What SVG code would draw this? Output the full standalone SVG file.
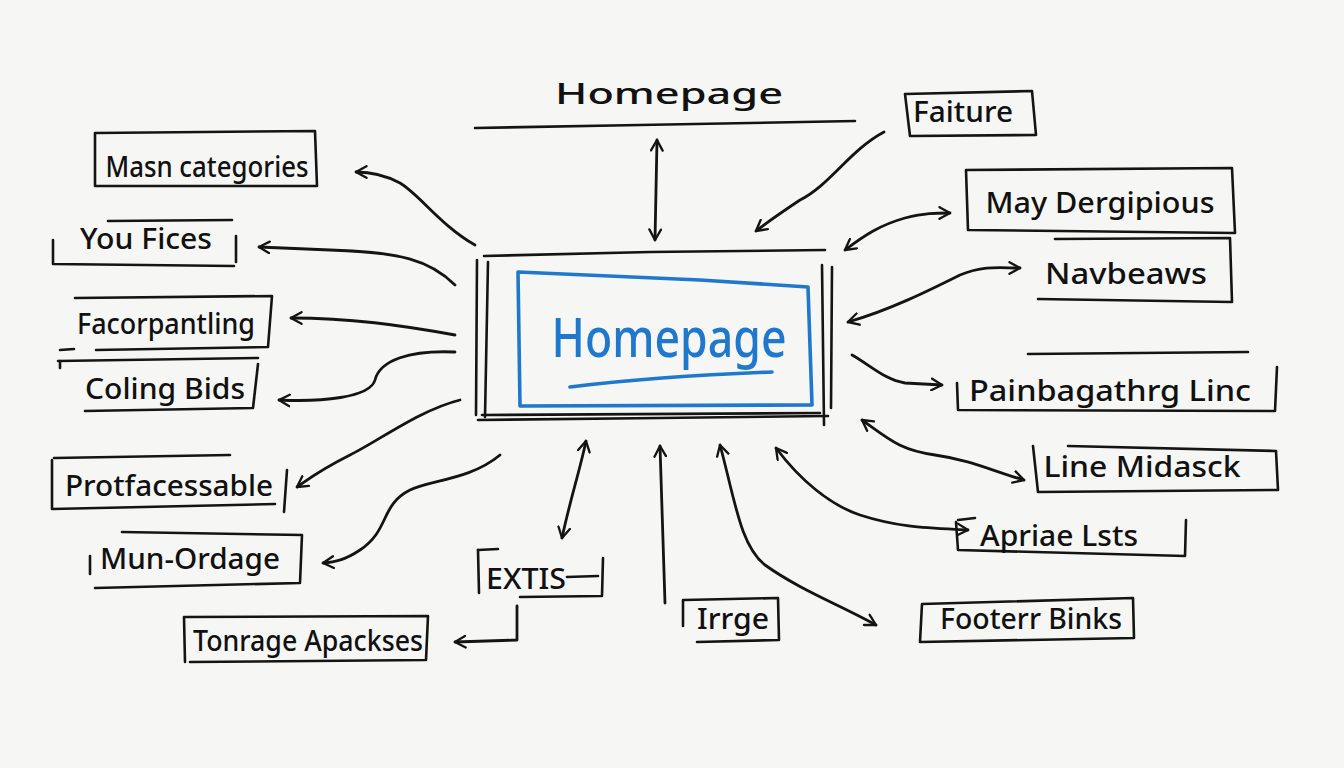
<svg xmlns="http://www.w3.org/2000/svg" width="1344" height="768" viewBox="0 0 1344 768">
<defs>
<style>
.bg{fill:#f6f6f5}
.ln{fill:none;stroke:#141414;stroke-width:2.6;stroke-linecap:round;stroke-linejoin:round}
.cn{fill:none;stroke:#141414;stroke-width:2.8;stroke-linecap:round;stroke-linejoin:round}
.bl{fill:none;stroke:#1f78cc;stroke-width:3.6;stroke-linecap:round;stroke-linejoin:round}
.t{font-family:"Noto Sans","Liberation Sans",sans-serif;fill:#111;font-size:29px;font-weight:500}
.tb{font-family:"Noto Sans","Liberation Sans",sans-serif;fill:#1f78cc;font-size:54px;font-weight:500}
</style>
<marker id="ah" viewBox="0 0 12 12" refX="10" refY="6" markerWidth="5" markerHeight="5" orient="auto-start-reverse" markerUnits="strokeWidth">
<path d="M1,1 L10,6 L1,11" fill="none" stroke="#141414" stroke-width="2" stroke-linecap="round" stroke-linejoin="round"/>
</marker>
</defs>
<rect class="bg" x="0" y="0" width="1344" height="768"/>

<g id="title">
<text class="t" x="669" y="104" text-anchor="middle" font-size="48" textLength="228" lengthAdjust="spacingAndGlyphs">Homepage</text>
<path class="ln" d="M475,128 L640,125 L855,121"/>
</g>

<g id="center">
<path class="ln" d="M484,256 L650,252 L825,250"/>
<path class="ln" d="M477,260 L476,415"/>
<path class="ln" d="M488,262 L485,417"/>
<path class="ln" d="M478,420 L660,418 L828,416"/>
<path class="ln" d="M482,415 L820,413"/>
<path class="ln" d="M822,265 L824,425"/>
<path class="ln" d="M832,267 L831,408"/>
<path class="bl" d="M518,272 L700,280 L808,287 L812,405 L520,406 Z"/>
<text class="tb" x="669" y="357" text-anchor="middle" textLength="235" lengthAdjust="spacingAndGlyphs">Homepage</text>
<path class="bl" d="M570,387 Q660,376 772,372"/>
</g>

<g id="n-masn">
<path class="ln" d="M95,133 L315,131 L317,186 L95,186 Z"/>
<text class="t" x="207" y="177" text-anchor="middle" textLength="203" lengthAdjust="spacingAndGlyphs">Masn categories</text>
</g>
<g id="n-youfices">
<path class="ln" d="M108,221 L232,220"/>
<path class="ln" d="M53,240 L53,264 L234,266"/>
<path class="ln" d="M236,236 L236,262"/>
<text class="t" x="146" y="249" text-anchor="middle" textLength="132" lengthAdjust="spacingAndGlyphs">You Fices</text>
</g>
<g id="n-facor">
<path class="ln" d="M75,298 L272,296 L268,347 L96,350"/>
<path class="ln" d="M60,350 L74,349"/>
<text class="t" x="166" y="334" text-anchor="middle" textLength="178" lengthAdjust="spacingAndGlyphs">Facorpantling</text>
</g>
<g id="n-coling">
<path class="ln" d="M58,361 L258,358"/>
<path class="ln" d="M60,361 L60,368"/>
<path class="ln" d="M258,364 L253,408 L85,411"/>
<text class="t" x="165" y="399" text-anchor="middle" textLength="160" lengthAdjust="spacingAndGlyphs">Coling Bids</text>
</g>
<g id="n-prot">
<path class="ln" d="M54,458 L230,455"/>
<path class="ln" d="M52,460 L52,509 L275,504"/>
<path class="ln" d="M287,470 L284,512"/>
<text class="t" x="169" y="496" text-anchor="middle" textLength="208" lengthAdjust="spacingAndGlyphs">Protfacessable</text>
</g>
<g id="n-mun">
<path class="ln" d="M122,532 L302,535 L300,583 L95,588"/>
<path class="ln" d="M90,556 L90,574"/>
<text class="t" x="190" y="569" text-anchor="middle" textLength="180" lengthAdjust="spacingAndGlyphs">Mun-Ordage</text>
</g>
<g id="n-tonrage">
<path class="ln" d="M185,617 L428,616 L426,660 L190,662"/>
<path class="ln" d="M184,617 L185,662"/>
<text class="t" x="308" y="651" text-anchor="middle" textLength="230" lengthAdjust="spacingAndGlyphs">Tonrage Apackses</text>
</g>
<g id="n-extis">
<path class="ln" d="M478,550 L498,549"/>
<path class="ln" d="M478,550 L479,593"/>
<path class="ln" d="M520,597 L602,596 L603,558"/>
<text class="t" x="526" y="589" text-anchor="middle" textLength="80" lengthAdjust="spacingAndGlyphs">EXTIS</text>
<path class="ln" d="M567,577 L598,576"/>
</g>
<g id="n-irrge">
<path class="ln" d="M684,600 L778,598 L779,640 L697,642"/>
<path class="ln" d="M683,600 L683,626"/>
<text class="t" x="733" y="629" text-anchor="middle" textLength="72" lengthAdjust="spacingAndGlyphs">Irrge</text>
</g>
<g id="n-faiture">
<path class="ln" d="M905,94 L1032,91 L1036,135 L910,136 Z"/>
<text class="t" x="963" y="122" text-anchor="middle" textLength="100" lengthAdjust="spacingAndGlyphs">Faiture</text>
</g>
<g id="n-may">
<path class="ln" d="M966,170 L1232,168 L1235,233 L968,230 Z"/>
<text class="t" x="1100" y="213" text-anchor="middle" textLength="229" lengthAdjust="spacingAndGlyphs">May Dergipious</text>
</g>
<g id="n-nav">
<path class="ln" d="M1055,239 L1230,238 L1232,302 L1038,299"/>
<text class="t" x="1126" y="284" text-anchor="middle" textLength="162" lengthAdjust="spacingAndGlyphs">Navbeaws</text>
</g>
<g id="n-pain">
<path class="ln" d="M1028,354 L1248,352"/>
<path class="ln" d="M957,383 L958,410 L1275,411 L1277,367"/>
<text class="t" x="1110" y="401" text-anchor="middle" textLength="282" lengthAdjust="spacingAndGlyphs">Painbagathrg Linc</text>
</g>
<g id="n-line">
<path class="ln" d="M1033,446 L1038,492 L1278,490 L1276,451 L1068,446"/>
<text class="t" x="1142" y="477" text-anchor="middle" textLength="197" lengthAdjust="spacingAndGlyphs">Line Midasck</text>
</g>
<g id="n-apriae">
<path class="ln" d="M958,520 L975,518"/>
<path class="ln" d="M956,522 L958,550 L1185,556 L1186,520"/>
<text class="t" x="1059" y="546" text-anchor="middle" textLength="158" lengthAdjust="spacingAndGlyphs">Apriae Lsts</text>
</g>
<g id="n-footer">
<path class="ln" d="M922,604 L1133,598 L1134,638 L920,642 Z"/>
<text class="t" x="1031" y="629" text-anchor="middle" textLength="182" lengthAdjust="spacingAndGlyphs">Footerr Binks</text>
</g>

<g id="connectors">
<path class="cn" d="M657,140 L655,240" marker-start="url(#ah)" marker-end="url(#ah)"/>
<path class="cn" d="M884,132 C850,150 830,185 800,200 C785,210 770,220 756,231" marker-end="url(#ah)"/>
<path class="cn" d="M475,245 C440,225 420,195 400,183 C385,175 370,172 356,172" marker-end="url(#ah)"/>
<path class="cn" d="M455,285 C430,260 400,252 330,250 L259,247" marker-end="url(#ah)"/>
<path class="cn" d="M455,335 C400,325 350,318 291,318" marker-end="url(#ah)"/>
<path class="cn" d="M455,352 C410,350 380,360 375,380 C370,398 320,402 279,400" marker-end="url(#ah)"/>
<path class="cn" d="M460,400 C420,410 380,440 350,455 C320,470 310,478 297,487" marker-end="url(#ah)"/>
<path class="cn" d="M500,455 C470,480 430,480 410,490 C380,505 390,530 360,550 C345,560 335,562 323,563" marker-end="url(#ah)"/>
<path class="cn" d="M586,441 C580,470 570,500 562,538" marker-start="url(#ah)" marker-end="url(#ah)"/>
<path class="cn" d="M517,606 L517,640 L455,642" marker-end="url(#ah)"/>
<path class="cn" d="M665,603 L660,446" marker-end="url(#ah)"/>
<path class="cn" d="M720,445 C735,500 740,545 765,565 C800,590 840,605 876,625" marker-start="url(#ah)" marker-end="url(#ah)"/>
<path class="cn" d="M776,448 C800,480 830,505 860,515 C900,528 930,528 968,530" marker-start="url(#ah)" marker-end="url(#ah)"/>
<path class="cn" d="M862,420 C890,440 900,450 935,455 C970,460 990,470 1024,480" marker-start="url(#ah)" marker-end="url(#ah)"/>
<path class="cn" d="M852,355 C870,365 885,380 905,383 L942,385" marker-end="url(#ah)"/>
<path class="cn" d="M848,322 C890,310 930,290 960,275 C985,265 1000,268 1020,268" marker-start="url(#ah)" marker-end="url(#ah)"/>
<path class="cn" d="M845,250 C865,235 880,225 905,218 C925,213 935,213 950,213" marker-start="url(#ah)" marker-end="url(#ah)"/>
</g>
</svg>
